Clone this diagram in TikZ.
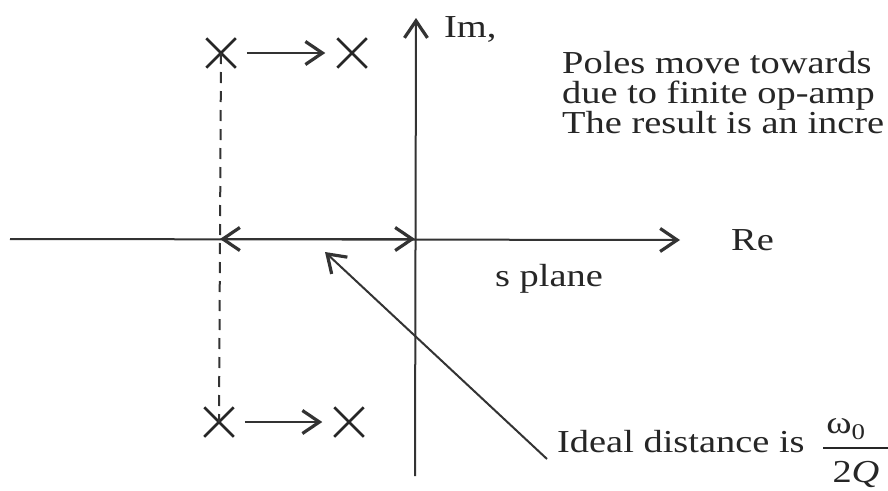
\documentclass[tikz,border=0pt]{standalone}
\usepackage{fontspec}
\setmainfont{Liberation Serif}[FakeStretch=1.2]
\usetikzlibrary{arrows.meta,shapes.misc}
\begin{document}
\begin{tikzpicture}[x=1pt,y=-1pt,
  every node/.style={font=\fontsize{32pt}{32pt}\selectfont, inner sep=0pt, text=black!85},
  axis/.style={line width=2pt, draw=black!80},
  barb/.tip={Straight Barb[length=17pt,width=23pt,line width=3.2pt]},
  tip/.style={-barb},
  pole/.style={cross out, draw=black!85, line width=2.5pt, minimum size=27pt},
  move/.style={line width=2pt, draw=black!80, tip, shorten <=11pt, shorten >=12pt}]
\useasboundingbox (0,0) rectangle (888,490);
\fill[white] (0,0) rectangle (888,490);
\clip (0,0) rectangle (888,490);
% axes
\coordinate (xl) at (10,239);
\coordinate (xr) at (680,240);
\coordinate (yb) at (415,476);
\coordinate (yt) at (416,18);
\coordinate (O) at (415,239);
\coordinate (A) at (220,239);
\draw[axis, tip] (xl) -- (xr);
\draw[axis, tip] (yb) -- (yt);
% poles
\node[pole] (p1) at (221,53) {};
\node[pole] (p2) at (352,53) {};
\node[pole] (p3) at (219,422) {};
\node[pole] (p4) at (349,422) {};
\draw[move] (p1) -- (p2);
\draw[move] (p3) -- (p4);
\draw[line width=2pt, draw=black!80, dash pattern=on 11pt off 8pt] (p1.center) -- (p3.center);
% double arrow on real axis
\draw[line width=2pt, draw=black!80, barb-barb] (A) -- (O);
% labels
\node[anchor=base west] (im) at (444,37) {Im,};
\node[anchor=base west] (re) at (731,250) {Re};
\node[anchor=base] (sp) at (549,286) {s plane};
\node[anchor=base west] (t1) at (562,73) {Poles move towards};
\node[anchor=base west] (t2) at (562,103) {due to finite op-amp};
\node[anchor=base west] (t3) at (562,133) {The result is an incre};
\node[anchor=base west] (id) at (557,452) {Ideal distance is};
% fraction
\node (num) at (846,429) {ω\textsubscript{0}};
\node (den) at (856,474) {2\textit{Q}};
\coordinate (bl) at (823,448);
\coordinate (br) at (890,448);
\draw[line width=1.8pt, draw=black!85] (bl) -- (br);
% pointer
\coordinate (pt) at (325,252);
\draw[line width=2pt, draw=black!80, tip] ([xshift=-10pt,yshift=-7pt]id.base west) -- (pt);
\end{tikzpicture}
\end{document}
